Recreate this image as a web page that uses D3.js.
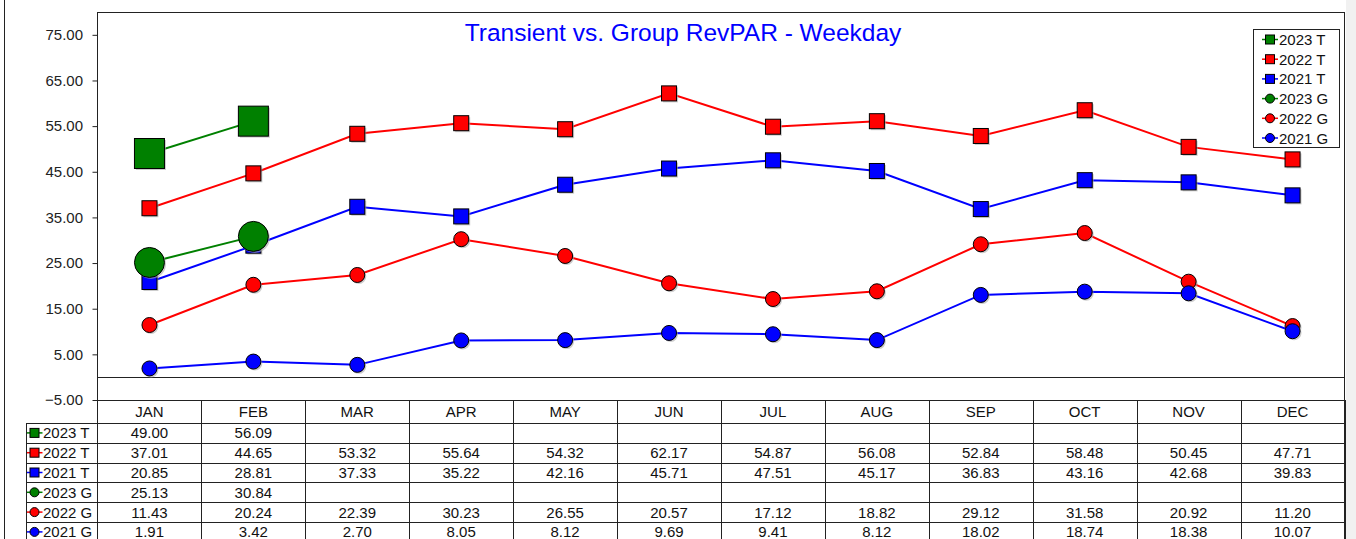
<!DOCTYPE html>
<html>
<head>
<meta charset="utf-8">
<script src="https://cdn.jsdelivr.net/npm/d3@7"></script>
<style>
  body { margin: 0; background: #fff; }
  svg { display: block; font-family: "Liberation Sans", Arial, sans-serif; }
</style>
</head>
<body>
<div class="graph"></div>
<script>
const months = ["JAN", "FEB", "MAR", "APR", "MAY", "JUN", "JUL", "AUG", "SEP", "OCT", "NOV", "DEC"];
const seriesNames = ["2023 T", "2022 T", "2021 T", "2023 G", "2022 G", "2021 G"];

const t2023 = [49.00, 56.09];
const t2022 = [37.01, 44.65, 53.32, 55.64, 54.32, 62.17, 54.87, 56.08, 52.84, 58.48, 50.45, 47.71];
const t2021 = [20.85, 28.81, 37.33, 35.22, 42.16, 45.71, 47.51, 45.17, 36.83, 43.16, 42.68, 39.83];
const g2023 = [25.13, 30.84];
const g2022 = [11.43, 20.24, 22.39, 30.23, 26.55, 20.57, 17.12, 18.82, 29.12, 31.58, 20.92, 11.20];
const g2021 = [1.91, 3.42, 2.70, 8.05, 8.12, 9.69, 9.41, 8.12, 18.02, 18.74, 18.38, 10.07];

const yTicks = [-5, 5, 15, 25, 35, 45, 55, 65, 75];

// styles kept apart from the values
const colors = ["#008000", "#ff0000", "#0000ff", "#008000", "#ff0000", "#0000ff"];
const shapes = ["square", "square", "square", "circle", "circle", "circle"];
const big = [true, false, false, true, false, false];

const seriesValues = [t2023, t2022, t2021, g2023, g2022, g2021];

const width = 1356, height = 539;
const plotL = 97.5, plotR = 1344.5, plotT = 12;
const rowH = 19.8, headTop = 400, headBot = 423, labelLeft = 26.5;

const svg = d3.select(".graph").append("svg")
  .attr("width", width).attr("height", height);

svg.append("rect").attr("width", width).attr("height", height).attr("fill", "#fff");
svg.append("rect").attr("x", 1346).attr("width", 10).attr("height", height).attr("fill", "#f1f1f1");
svg.append("line").attr("x1", 4.5).attr("x2", 4.5).attr("y1", 0).attr("y2", height)
  .attr("stroke", "#222");

const x = d3.scaleBand().domain(months).range([plotL, plotR]);
const y = d3.scaleLinear().domain([-5, 80]).range([400, plotT]);
const cx = m => x(m) + x.bandwidth() / 2;

// y axis
const yAxis = d3.axisLeft(y).tickValues(yTicks).tickFormat(d3.format(".2f"))
  .tickSize(5).tickPadding(9.5).tickSizeOuter(0);
const ga = svg.append("g").attr("transform", `translate(${plotL},0)`).call(yAxis);
ga.select(".domain").remove();
ga.selectAll("line").attr("stroke", "#222");
ga.selectAll("text").attr("font-size", 15).attr("fill", "#222")
  .attr("font-family", "Liberation Sans, Arial, sans-serif");

// frame
const frame = svg.append("g").attr("stroke", "#222").attr("stroke-width", 1);
frame.append("line").attr("x1", plotL).attr("x2", plotR).attr("y1", plotT + 0.5).attr("y2", plotT + 0.5);
frame.append("line").attr("x1", plotL).attr("x2", plotL).attr("y1", plotT).attr("y2", height);
frame.append("line").attr("x1", plotR).attr("x2", plotR).attr("y1", plotT).attr("y2", height);
frame.append("line").attr("x1", plotL).attr("x2", plotR)
  .attr("y1", Math.round(y(0)) + 0.5).attr("y2", Math.round(y(0)) + 0.5);
frame.append("line").attr("x1", plotL).attr("x2", plotR).attr("y1", headTop + 0.5).attr("y2", headTop + 0.5);

// title
svg.append("text").attr("x", 683).attr("y", 41).attr("text-anchor", "middle")
  .attr("font-size", 24.5).attr("fill", "#0000ff")
  .text("Transient vs. Group RevPAR - Weekday");

function marker(g, shape, size, color, shadow) {
  if (shadow) {
    if (shape === "square") {
      g.append("rect").attr("x", -size / 2 + 1.5).attr("y", -size / 2 + 1.5)
        .attr("width", size).attr("height", size).attr("fill", "#aaa").attr("opacity", 0.6);
    } else {
      g.append("circle").attr("cx", 1.5).attr("cy", 1.5).attr("r", size / 2)
        .attr("fill", "#aaa").attr("opacity", 0.6);
    }
  }
  if (shape === "square") {
    g.append("rect").attr("x", -size / 2).attr("y", -size / 2)
      .attr("width", size).attr("height", size)
      .attr("fill", color).attr("stroke", "#000").attr("stroke-width", 1);
  } else {
    g.append("circle").attr("r", size / 2)
      .attr("fill", color).attr("stroke", "#000").attr("stroke-width", 1);
  }
}

// series
const line = d3.line().x((d, i) => cx(months[i])).y(d => y(d));
seriesValues.forEach((vals, s) => {
  const g = svg.append("g");
  g.append("path").datum(vals).attr("d", line)
    .attr("fill", "none").attr("stroke", colors[s]).attr("stroke-width", 2);
  const size = big[s] ? 30 : 15;
  vals.forEach((v, i) => {
    const m = g.append("g").attr("transform", `translate(${cx(months[i])},${y(v)})`);
    marker(m, shapes[s], size, colors[s], true);
  });
});

// legend
const lg = svg.append("g");
lg.append("rect").attr("x", 1253.5).attr("y", 29.5).attr("width", 86).attr("height", 118)
  .attr("fill", "#fff").attr("stroke", "#222");
seriesNames.forEach((name, s) => {
  const yy = 39.5 + s * 19.7;
  const g = lg.append("g").attr("transform", `translate(1270,${yy})`);
  g.append("line").attr("x1", -8).attr("x2", 8).attr("stroke", colors[s]).attr("stroke-width", 1.5);
  marker(g, shapes[s], 9, colors[s], false);
  lg.append("text").attr("x", 1279).attr("y", yy + 5.5).attr("font-size", 15).attr("fill", "#111").text(name);
});

// data table
const tb = svg.append("g");
const lineC = "#222";
x.domain().forEach(m => {
  const xr = Math.round(x(m) + x.bandwidth()) + 0.5;
  tb.append("line").attr("x1", xr).attr("x2", xr)
    .attr("y1", headTop).attr("y2", height).attr("stroke", lineC);
  tb.append("text").attr("x", cx(m)).attr("y", headTop + 17).attr("text-anchor", "middle")
    .attr("font-size", 15).attr("fill", "#111").text(m);
});
tb.append("line").attr("x1", labelLeft).attr("x2", plotR).attr("y1", headBot + 0.5).attr("y2", headBot + 0.5).attr("stroke", lineC);
tb.append("line").attr("x1", labelLeft).attr("x2", labelLeft).attr("y1", headBot).attr("y2", height).attr("stroke", lineC);
seriesNames.forEach((name, s) => {
  const rt = headBot + s * rowH;
  const rb = rt + rowH;
  tb.append("line").attr("x1", labelLeft).attr("x2", plotR)
    .attr("y1", Math.round(rb) + 0.5).attr("y2", Math.round(rb) + 0.5).attr("stroke", lineC);
  const cy = rt + rowH / 2;
  const g = tb.append("g").attr("transform", `translate(34.5,${cy})`);
  g.append("line").attr("x1", -7.5).attr("x2", 8).attr("stroke", colors[s]).attr("stroke-width", 1.5);
  marker(g, shapes[s], 9, colors[s], false);
  tb.append("text").attr("x", 43).attr("y", cy + 5.5).attr("font-size", 15).attr("fill", "#111").text(name);
  seriesValues[s].forEach((v, i) => {
    tb.append("text").attr("x", cx(months[i])).attr("y", cy + 5.5).attr("text-anchor", "middle")
      .attr("font-size", 15).attr("fill", "#111").text(v.toFixed(2));
  });
});
</script>
</body>
</html>
